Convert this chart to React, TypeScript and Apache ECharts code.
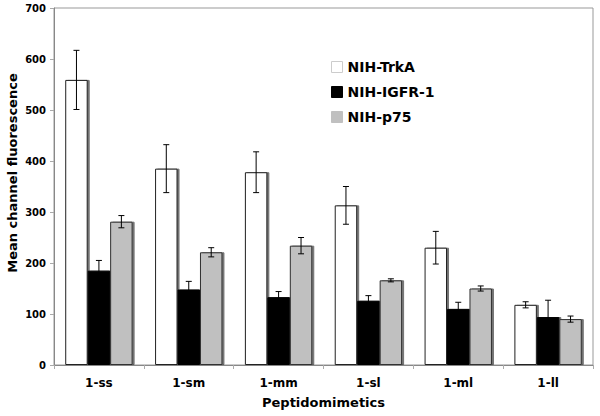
import React, { useEffect, useRef } from "react";
import * as echarts from "echarts";

const categories = ["1-ss", "1-sm", "1-mm", "1-sl", "1-ml", "1-ll"];
const seriesNames = ["NIH-TrkA", "NIH-IGFR-1", "NIH-p75"];
const trkA = [559, 385, 378, 313, 230, 118];
const trkAErr = [58, 47, 40, 37, 32, 6];
const igfr = [185, 148, 133, 126, 110, 94];
const igfrErr = [20, 16, 11, 10, 13, 33];
const p75 = [281, 221, 234, 166, 150, 90];
const p75Err = [12, 9, 16, 3, 5, 6];
const yTicks = [0, 100, 200, 300, 400, 500, 600, 700];
const yTitle = "Mean channel fluorescence";
const xTitle = "Peptidomimetics";

const FONT = "DejaVu Sans";

export default function App() {
  const ref = useRef<HTMLDivElement>(null);
  useEffect(() => {
    if (!ref.current) return;
    const chart = echarts.init(ref.current, undefined, { renderer: "svg" });
    const values = [trkA, igfr, p75];
    const errs = [trkAErr, igfrErr, p75Err];
    const colors = ["#ffffff", "#000000", "#c0c0c0"];
    const borders = ["#202020", "#000000", "#303030"];
    const errData: number[][] = [];
    values.forEach((vals, s) => {
      vals.forEach((v, i) => errData.push([i, v, errs[s][i], s]));
    });
    const barSeries = values.map((vals, s) => ({
      name: seriesNames[s],
      type: "bar",
      data: vals,
      barGap: "0%",
      barCategoryGap: "25%",
      itemStyle: {
        color: colors[s],
        borderColor: borders[s],
        borderWidth: 1,
        shadowColor: "rgba(0,0,0,0.55)",
        shadowOffsetX: 2,
        shadowOffsetY: 0,
        shadowBlur: 1,
      },
      z: 2,
    }));
    chart.setOption({
      animation: false,
      backgroundColor: "#ffffff",
      grid: {
        left: 54,
        right: 7,
        top: 8,
        bottom: 51,
        show: true,
        borderColor: "#999999",
        borderWidth: 1,
      },
      graphic: [
        {
          type: "text",
          x: 12,
          y: 173,
          rotation: Math.PI / 2,
          style: {
            text: yTitle,
            fontFamily: FONT,
            fontWeight: "bold",
            fontSize: 13,
            fill: "#000",
            textAlign: "center",
            textVerticalAlign: "middle",
          },
        },
      ],
      legend: {
        orient: "vertical",
        left: 326,
        top: 55,
        itemWidth: 11,
        itemHeight: 11,
        itemGap: 11,
        data: seriesNames.map((n, s) => ({
          name: n,
          icon: "rect",
          itemStyle: {
            color: colors[s],
            borderColor: s === 0 ? "#cccccc" : colors[s],
            borderWidth: 1,
            shadowBlur: 0,
            shadowOffsetX: 0,
          },
        })),
        textStyle: { fontFamily: FONT, fontWeight: "bold", fontSize: 14, color: "#000" },
      },
      xAxis: {
        type: "category",
        data: categories,
        name: xTitle,
        nameLocation: "middle",
        nameGap: 31,
        nameTextStyle: { fontFamily: FONT, fontWeight: "bold", fontSize: 13, color: "#000" },
        axisLine: { lineStyle: { color: "#888888" } },
        axisTick: { show: true, length: 4, lineStyle: { color: "#aaaaaa" } },
        axisLabel: { fontFamily: FONT, fontWeight: "bold", fontSize: 12, color: "#000", margin: 12 },
      },
      yAxis: {
        type: "value",
        min: 0,
        max: 700,
        interval: 100,
        axisLine: { show: true, lineStyle: { color: "#888888" } },
        axisTick: { show: true, length: 4, lineStyle: { color: "#aaaaaa" } },
        splitLine: { show: false },
        axisLabel: {
          fontFamily: FONT,
          fontWeight: "bold",
          fontSize: 10,
          color: "#000",
          margin: 8,
          formatter: (v: number) => (yTicks.includes(v) ? String(v) : ""),
        },
      },
      series: [
        ...barSeries,
        {
          type: "custom",
          name: "err",
          data: errData,
          z: 5,
          silent: true,
          encode: { x: 0, y: 1 },
          renderItem: (params: any, api: any) => {
            const i = api.value(0);
            const v = api.value(1);
            const e = api.value(2);
            const s = api.value(3);
            const band = api.size([1, 0])[0];
            const bw = (band * 0.75) / 3;
            const c = api.coord([i, v]);
            const x = c[0] + (s - 1) * bw;
            const top = api.coord([i, v + e])[1];
            const bot = api.coord([i, v - e])[1];
            const cap = 3;
            const style = { stroke: "#000", lineWidth: 1 };
            return {
              type: "group",
              children: [
                { type: "line", shape: { x1: x, y1: top, x2: x, y2: bot }, style },
                { type: "line", shape: { x1: x - cap, y1: top, x2: x + cap, y2: top }, style },
                { type: "line", shape: { x1: x - cap, y1: bot, x2: x + cap, y2: bot }, style },
              ],
            };
          },
        },
      ],
    });
    return () => chart.dispose();
  }, []);
  return (
    <div
      ref={ref}
      style={{ position: "absolute", left: 0, top: 0, width: 600, height: 416 }}
    />
  );
}
